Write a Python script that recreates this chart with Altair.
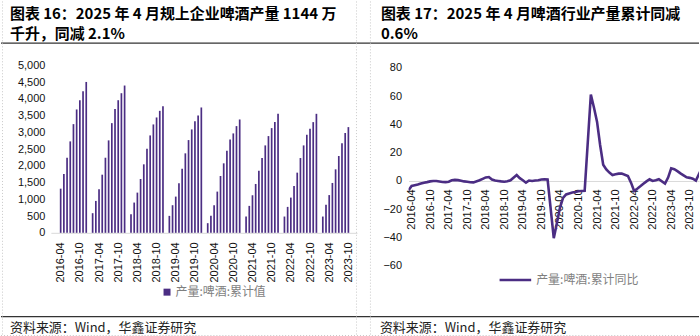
import altair as alt
import pandas as pd

# ---------------- data ----------------
bar_months = (
    ["2016-%02d" % m for m in range(4, 13)]
    + ["2017-%02d" % m for m in range(2, 13)]
    + ["2018-%02d" % m for m in range(2, 13)]
    + ["2019-%02d" % m for m in range(2, 13)]
    + ["2020-%02d" % m for m in range(2, 13)]
    + ["2021-%02d" % m for m in range(2, 13)]
    + ["2022-%02d" % m for m in range(2, 13)]
    + ["2023-%02d" % m for m in range(2, 11)]
)
bar_values = [
    1318, 1756, 2241, 2729, 3244, 3682, 3958, 4226, 4503,
    586, 952, 1301, 1735, 2241, 2759, 3274, 3699, 3958, 4167, 4396,
    556, 903, 1200, 1607, 2044, 2510, 2907, 3235, 3443, 3641, 3780,
    506, 824, 1081, 1479, 1914, 2372, 2768, 3086, 3333, 3503, 3741,
    288, 506, 824, 1230, 1696, 2074, 2450, 2788, 2967, 3185, 3383,
    486, 804, 1121, 1458, 1855, 2232, 2609, 2887, 3125, 3304, 3552,
    486, 774, 1051, 1399, 1796, 2232, 2609, 2927, 3105, 3304, 3552,
    486, 838, 1126, 1488, 1895, 2292, 2670, 2980, 3155,
]

line_months = (
    ["2016-%02d" % m for m in range(3, 13)]
    + ["2017-%02d" % m for m in range(2, 13)]
    + ["2018-%02d" % m for m in range(2, 13)]
    + ["2019-%02d" % m for m in range(2, 13)]
    + ["2020-%02d" % m for m in range(2, 13)]
    + ["2021-%02d" % m for m in range(2, 13)]
    + ["2022-%02d" % m for m in range(2, 13)]
    + ["2023-%02d" % m for m in range(2, 13)]
    + ["2024-02"]
)
line_values = [
    -6.5, -3.5, -3.0, -2.5, -1.8, -1.2, -0.8, -0.3, 0.0, 0.0,
    -0.7, -0.8, -0.5, 0.5, 0.8, 0.6, 0.2, -0.3, -0.5, -0.9, -1.0,
    0.5, 1.5, 2.5, 2.8, 1.0, 0.3, 0.0, -0.3, -0.5, -0.2, 0.5,
    4.2, 2.0, 0.5, -1.2, 0.3, 0.0, 0.3, 0.5, 1.0, 1.2, 1.1,
    -40.5, -30.0, -19.0, -12.0, -9.5, -8.8, -8.2, -7.8, -7.3, -7.1, -7.0,
    61.2, 52.0, 42.0, 25.5, 11.5, 8.2, 5.9, 4.2, 4.7, 5.2, 5.2,
    3.5, -1.2, -7.1, -5.5, -3.8, -2.0, -0.3, 1.2, 0.0, 0.5, 1.2,
    -1.9, 2.4, 9.0, 8.3, 7.0, 5.4, 4.0, 2.6, 2.2, 1.6, 0.3,
    9.5,
]

tick_labels = ["%d-%s" % (y, mm) for y in range(2016, 2024) for mm in ("04", "10")]
left_y_ticks = [0, 500, 1000, 1500, 2000, 2500, 3000, 3500, 4000, 4500, 5000]
right_y_ticks = [-60, -40, -20, 0, 20, 40, 60, 80]

title_left_1 = "图表 16：2025 年 4 月规上企业啤酒产量 1144 万"
title_left_2 = "千升，同减 2.1%"
title_right_1 = "图表 17：2025 年 4 月啤酒行业产量累计同减"
title_right_2 = "0.6%"
legend_left = "产量:啤酒:累计值"
legend_right = "产量:啤酒:累计同比"
source_text = "资料来源：Wind，华鑫证券研究"


def midx(s):
    y, m = s.split("-")
    return (int(y) - 2016) * 12 + int(m) - 1


bars_df = pd.DataFrame({"m": [midx(s) for s in bar_months], "month": bar_months, "v": bar_values})
line_df = pd.DataFrame({"m": [midx(s) for s in line_months], "month": line_months, "v": line_values})
tick_vals = [midx(s) for s in tick_labels]

PURPLE = "#4b2d83"
CJK = "Noto Sans CJK SC"
LAT = "Liberation Sans"
LABEL_EXPR = ("toString(2016 + floor(datum.value / 12)) + '-' + "
              "((datum.value % 12) + 1 < 10 ? '0' : '') + toString((datum.value % 12) + 1)")

# layout (canvas px)
LX, LY = 50, 64
LW, LH = 307, 168
RX = 408.7
RW, RH = 700 - RX, 201
SPACING = RX - (LX + LW)

one = pd.DataFrame({"a": [0]})


def txt(text, x, y, size, color="#000", weight="normal", font=CJK, align="left"):
    return alt.Chart(one).mark_text(
        text=text, align=align, baseline="middle", font=font, fontSize=size,
        fontWeight=weight, color=color,
    ).encode(x=alt.value(x), y=alt.value(y))


def hrule(x1, x2, y, color, width, dash=None):
    kw = dict(color=color, strokeWidth=width)
    if dash:
        kw["strokeDash"] = dash
    return alt.Chart(one).mark_rule(**kw).encode(x=alt.value(x1), x2=alt.value(x2), y=alt.value(y))


def vrule(x, y1, y2, color, width, dash=None):
    kw = dict(color=color, strokeWidth=width)
    if dash:
        kw["strokeDash"] = dash
    return alt.Chart(one).mark_rule(**kw).encode(x=alt.value(x), y=alt.value(y1), y2=alt.value(y2))


# ---------------- left panel ----------------
bars = alt.Chart(bars_df).mark_bar(size=1.7, color=PURPLE).encode(
    x=alt.X("m:Q", scale=alt.Scale(domain=[1.49, 94.13], nice=False, zero=False),
            axis=alt.Axis(values=tick_vals, labelExpr=LABEL_EXPR, labelAngle=270, title=None,
                          ticks=False, tickSize=0, grid=False, domainColor="#d9d9d9",
                          labelPadding=9, labelFontSize=11, labelFont=LAT, labelColor="#111")),
    y=alt.Y("v:Q", scale=alt.Scale(domain=[0, 5000], nice=False),
            axis=alt.Axis(values=left_y_ticks, labelExpr="format(datum.value, ',.0f')",
                          title=None, ticks=False, domain=False,
                          grid=False, labelPadding=6, labelFontSize=11, labelFont=LAT,
                          labelColor="#111")),
)

canvas_box = alt.Chart(one).mark_rect(opacity=0).encode(
    x=alt.value(-LX), x2=alt.value(700 - LX), y=alt.value(-LY), y2=alt.value(336 - LY))

left_deco = [
    canvas_box,
    txt(title_left_1, 9 - LX, 13 - LY, 15, weight="bold"),
    txt(title_left_2, 9 - LX, 32.5 - LY, 15, weight="bold"),
    txt(title_right_1, 381 - LX, 13 - LY, 15, weight="bold"),
    txt(title_right_2, 381 - LX, 32.5 - LY, 15, weight="bold"),
    hrule(-LX, 700 - LX, 41.7 - LY, "#333", 1.3),
    hrule(-LX, 700 - LX, 316 - LY, "#333", 1.3),
    txt(source_text, 9 - LX, 327 - LY, 13, color="#222"),
    txt(source_text, 380 - LX, 327 - LY, 13, color="#222"),
    vrule(1.5 - LX, -LY, 336 - LY, "#c8c8c8", 1, [1, 2]),
    vrule(356.5 - LX, -LY, 336 - LY, "#c8c8c8", 1, [1, 2]),
    vrule(370.5 - LX, -LY, 336 - LY, "#c8c8c8", 1, [1, 2]),
    hrule(-LX, 700 - LX, 335 - LY, "#c8c8c8", 1, [1, 2]),
    alt.Chart(one).mark_square(size=49, color=PURPLE, opacity=1).encode(
        x=alt.value(166.5 - LX), y=alt.value(291.5 - LY)),
    txt(legend_left, 175 - LX, 291.7 - LY, 12, color="#7f7f7f"),
]

left = alt.layer(bars, *left_deco).properties(width=LW, height=LH)

# ---------------- right panel ----------------
line = alt.Chart(line_df).mark_line(color=PURPLE, strokeWidth=2.6, clip=True).encode(
    x=alt.X("m:Q", scale=alt.Scale(domain=[2, 96], nice=False, zero=False),
            axis=alt.Axis(values=tick_vals, labelExpr=LABEL_EXPR, labelAngle=270, title=None,
                          ticks=False, tickSize=0, grid=False, domainColor="#d9d9d9",
                          offset=-(RH - (180 - LY)), labelPadding=8, labelFontSize=11,
                          labelFont=LAT, labelColor="#111")),
    y=alt.Y("v:Q", scale=alt.Scale(domain=[-60, 81.9], nice=False, zero=False),
            axis=alt.Axis(values=right_y_ticks, title=None, ticks=False, domain=False, grid=False,
                          labelPadding=7, labelFontSize=11, labelFont=LAT, labelColor="#111")),
)

right_deco = [
    hrule(500 - RX, 531.7 - RX, 279.3 - LY, PURPLE, 2.6),
    txt(legend_right, 536.7 - RX, 279.3 - LY, 12, color="#7f7f7f"),
]

right = alt.layer(line, *right_deco).properties(width=RW, height=RH)

chart = alt.hconcat(left, right, spacing=SPACING, bounds="flush").properties(
    padding=0, autosize=alt.AutoSizeParams(type="pad")
).configure_view(stroke=None)

chart.save("out.html", embed_options={"renderer": "svg", "actions": False})
